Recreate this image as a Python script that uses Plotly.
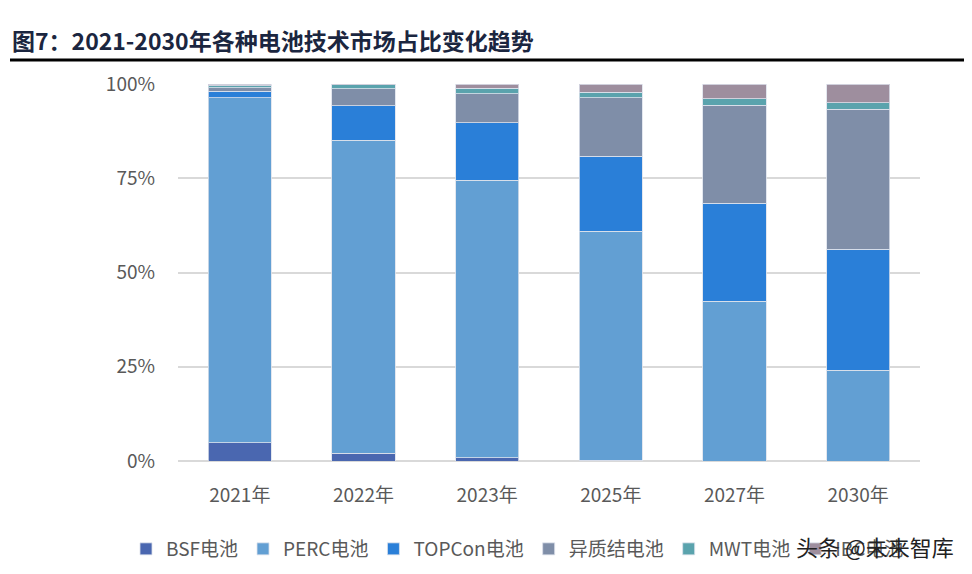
import plotly.graph_objects as go

years = ["2021年", "2022年", "2023年", "2025年", "2027年", "2030年"]
bsf = [4.8, 2.0, 0.9, 0.2, 0.0, 0.0]
perc = [91.5, 83.1, 73.6, 60.8, 42.4, 24.1]
topcon = [1.8, 9.1, 15.2, 19.9, 26.0, 32.1]
hjt = [0.9, 4.5, 7.7, 15.5, 25.9, 37.1]
mwt = [0.6, 1.1, 1.5, 1.4, 1.8, 1.7]
ibc = [0.4, 0.2, 1.1, 2.2, 3.9, 5.0]
ytick_vals = [0, 25, 50, 75, 100]
ytick_text = ["0%", "25%", "50%", "75%", "100%"]

series = [
    ("BSF电池", bsf, "#4a67b0"),
    ("PERC电池", perc, "#629fd3"),
    ("TOPCon电池", topcon, "#2a7fd8"),
    ("异质结电池", hjt, "#7f8ea8"),
    ("MWT电池", mwt, "#5aa3ad"),
    ("IBC电池", ibc, "#9e8e9e"),
]

font = "Noto Sans CJK SC"
# page has an 8px body offset; figure is sized to fit the 972x574 window
W, H = 964, 566
L, T, PW, PH = 170, 76, 742, 377

fig = go.Figure()
for name, vals, color in series:
    fig.add_trace(go.Bar(
        x=years, y=vals, name=name,
        marker=dict(color=color, line=dict(color="rgba(220,225,235,0.8)", width=1)),
        width=0.51,
    ))

fig.update_layout(
    barmode="stack",
    width=W, height=H,
    margin=dict(l=L, r=W - L - PW, t=T, b=H - T - PH, autoexpand=False),
    paper_bgcolor="white", plot_bgcolor="white",
    font=dict(family=font, size=17, color="#595959"),
    showlegend=True,
    legend=dict(orientation="h", x=-52/PW, xanchor="left", y=-(541-453)/PH, yanchor="middle",
                font=dict(size=19, color="#595959"), traceorder="normal",
                itemwidth=30, tracegroupgap=0, bgcolor="rgba(0,0,0,0)"),
    xaxis=dict(showline=False, ticks="", tickfont=dict(size=19, color="#595959"),
               ticklabelstandoff=21),
    yaxis=dict(range=[0, 100], tickmode="array", tickvals=ytick_vals, ticktext=ytick_text,
               showgrid=True, gridcolor="#d9d9d9", gridwidth=1.5, zeroline=True,
               zerolinecolor="#d9d9d9", zerolinewidth=1.5,
               tickfont=dict(size=19, color="#595959"), ticklabelstandoff=22),
    shapes=[dict(type="line", xref="paper", yref="paper", x0=-(L - 2)/PW, x1=(W - L)/PW,
                 y0=1+(T - 52)/PH, y1=1+(T - 52)/PH,
                 line=dict(color="black", width=3))],
    annotations=[
        dict(text="<b>图7：2021-2030年各种电池技术市场占比变化趋势</b>", xref="paper", yref="paper",
             x=-(L - 2)/PW, y=1+(T - 32)/PH, xanchor="left", yanchor="middle", showarrow=False,
             font=dict(family=font, size=23, color="#1b2640")),
        dict(text="头条 @未来智库", xref="paper", yref="paper",
             x=(948 - L)/PW, y=-(538 - 453)/PH, xanchor="right", yanchor="middle", showarrow=False,
             font=dict(family=font, size=22, color="#222222")),
    ],
)

fig.write_html("out.html")
